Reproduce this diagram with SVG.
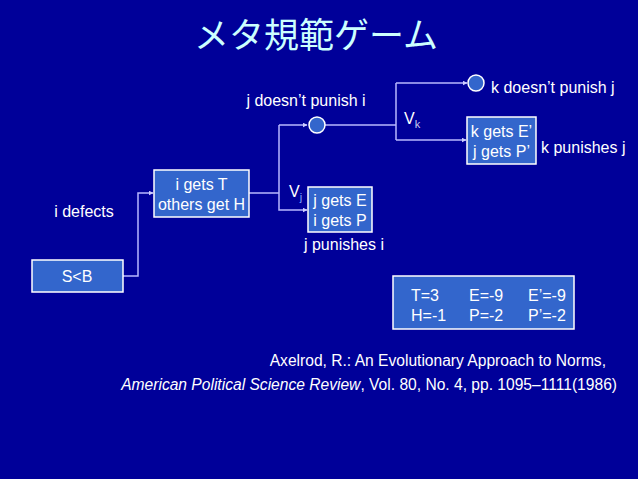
<svg xmlns="http://www.w3.org/2000/svg" width="638" height="479" viewBox="0 0 638 479">
<defs>
<marker id="arr" viewBox="0 0 10 10" refX="9" refY="5" markerWidth="5" markerHeight="5" orient="auto" markerUnits="userSpaceOnUse"><path d="M0,0 L10,5 L0,10 z" fill="#CCCCFF"/></marker>
<style>
text{font-family:"Liberation Sans",Arial,sans-serif;fill:#FFFFFF;font-size:16px}
.box{fill:#3366CC;stroke:#FFFFFF;stroke-width:1.5}
.c{fill:#3366CC;stroke:#FFFFFF;stroke-width:1.5}
.ln{fill:none;stroke:#B8B8FF;stroke-width:1.5}
.m{text-anchor:middle}
.sub{font-size:11px;fill:#7FA8FF}
.cite{font-size:15.6px;text-anchor:end}
</style>
</defs>
<rect width="638" height="479" fill="#000099"/>
<text x="316" y="48" class="m" style="font-family:'Noto Sans CJK JP',sans-serif;font-size:35px;fill:#CCFFFF">メタ規範ゲーム</text>

<g id="connectors">
<polyline class="ln" points="123,276 138,276 138,193 153,193" marker-end="url(#arr)"/>
<polyline class="ln" points="249,193 279,193"/>
<polyline class="ln" points="279,125 279,210 307,210" marker-end="url(#arr)"/>
<polyline class="ln" points="279,125 307,125" marker-end="url(#arr)"/>
<polyline class="ln" points="325,125 396,125"/>
<polyline class="ln" points="396,83 396,140"/>
<polyline class="ln" points="396,83 467,83" marker-end="url(#arr)"/>
<polyline class="ln" points="396,140 466,140" marker-end="url(#arr)"/>
</g>

<g id="sb">
<rect class="box" x="32" y="260" width="91" height="32"/>
<text x="77" y="282" class="m">S&lt;B</text>
</g>
<text x="84" y="217" class="m">i defects</text>

<g id="itt">
<rect class="box" x="154" y="170" width="95" height="47"/>
<text x="201.5" y="190" class="m">i gets T</text>
<text x="201.5" y="210" class="m">others get H</text>
</g>

<g id="jge">
<rect class="box" x="308" y="187" width="64" height="45"/>
<text x="340" y="206" class="m">j gets E</text>
<text x="340" y="226" class="m">i gets P</text>
</g>
<text x="289" y="197">V<tspan class="sub" dy="4">j</tspan></text>
<text x="344" y="250" class="m">j punishes i</text>

<g id="n1">
<circle class="c" cx="317" cy="125" r="8"/>
</g>
<text x="306" y="106" class="m">j doesn’t punish i</text>
<text x="404" y="124">V<tspan class="sub" dy="4" style="fill:#CCCCEE">k</tspan></text>

<g id="n2">
<circle class="c" cx="476" cy="83" r="8"/>
</g>
<text x="491" y="93">k doesn’t punish j</text>

<g id="kge">
<rect class="box" x="467" y="117" width="69" height="47"/>
<text x="501.5" y="137" class="m">k gets E’</text>
<text x="501.5" y="157" class="m">j gets P’</text>
</g>
<text x="541" y="153">k punishes j</text>

<g id="params">
<rect class="box" x="393" y="276" width="181" height="53"/>
<text x="411" y="301">T=3</text>
<text x="411" y="321">H=-1</text>
<text x="469" y="301">E=-9</text>
<text x="469" y="321">P=-2</text>
<text x="528" y="301">E’=-9</text>
<text x="528" y="321">P’=-2</text>
</g>

<text x="606" y="366" class="cite">Axelrod, R.: An Evolutionary Approach to Norms,</text>
<text x="617" y="390" class="cite"><tspan font-style="italic">American Political Science Review</tspan>, Vol. 80, No. 4, pp. 1095–1111(1986)</text>
</svg>
